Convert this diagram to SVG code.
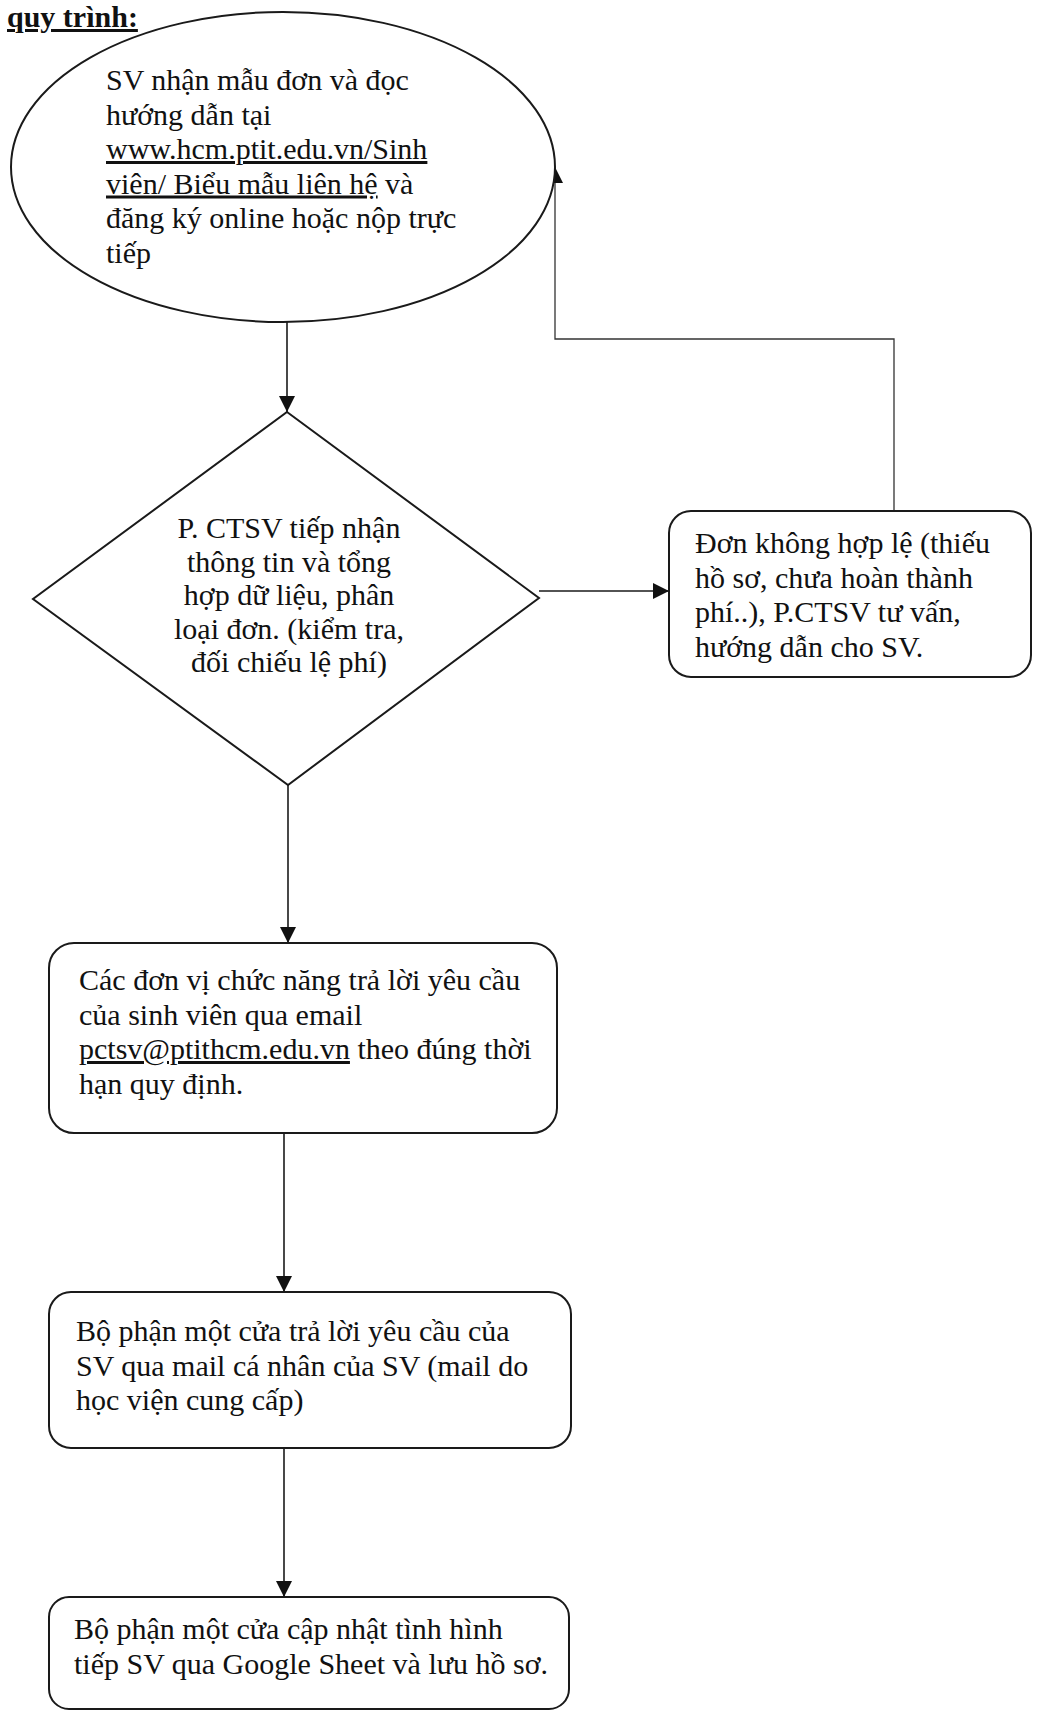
<svg xmlns="http://www.w3.org/2000/svg" width="1039" height="1711" viewBox="0 0 1039 1711">
<style>
  .shape { fill: #ffffff; stroke: #1a1a1a; stroke-width: 2; }
  .t { font-family: "Liberation Serif", "Times New Roman", serif; font-size: 30px; fill: #111111; }
  .mid { text-anchor: middle; }
  .u { text-decoration: underline; }
  .title { font-family: "Liberation Serif", "Times New Roman", serif; font-size: 30px; font-weight: bold; fill: #111111; text-decoration: underline; }
  .conn { fill: none; stroke: #1a1a1a; stroke-width: 1.6; }
  .thin { stroke-width: 1.3; stroke: #333333; }
</style>
<defs>
  <marker id="arrow" markerUnits="userSpaceOnUse" markerWidth="16" markerHeight="16" viewBox="0 0 16 16" refX="16" refY="8" orient="auto">
    <path d="M0,0 L16,8 L0,16 z" fill="#111111"/>
  </marker>
</defs>
<rect x="0" y="0" width="1039" height="1711" fill="#ffffff"/>

<text class="title" x="7" y="27">quy trình:</text>

<g id="connectors">
  <line class="conn" x1="287" y1="322" x2="287" y2="412" marker-end="url(#arrow)"/>
  <line class="conn" x1="539" y1="591" x2="669" y2="591" marker-end="url(#arrow)"/>
  <polyline class="conn thin" points="894,511 894,339 555,339 555,167" marker-end="url(#arrow)"/>
  <line class="conn" x1="288" y1="785" x2="288" y2="943" marker-end="url(#arrow)"/>
  <line class="conn" x1="284" y1="1133" x2="284" y2="1292" marker-end="url(#arrow)"/>
  <line class="conn" x1="284" y1="1448" x2="284" y2="1597" marker-end="url(#arrow)"/>
</g>

<g id="node-start">
  <ellipse class="shape" cx="283" cy="167" rx="272" ry="155"/>
  <text class="t" x="106" y="90">SV nhận mẫu đơn và đọc</text>
  <text class="t" x="106" y="124.5">hướng dẫn tại</text>
  <text class="t" x="106" y="159"><tspan class="u">www.hcm.ptit.edu.vn/Sinh</tspan></text>
  <text class="t" x="106" y="193.5"><tspan class="u">viên/ Biểu mẫu liên hệ</tspan> và</text>
  <text class="t" x="106" y="228">đăng ký online hoặc nộp trực</text>
  <text class="t" x="106" y="262.5">tiếp</text>
</g>

<g id="node-decision">
  <polygon class="shape" points="287,412 539,598 288,785 33,599"/>
  <text class="t mid" x="289" y="538">P. CTSV tiếp nhận</text>
  <text class="t mid" x="289" y="571.5">thông tin và tổng</text>
  <text class="t mid" x="289" y="605">hợp dữ liệu, phân</text>
  <text class="t mid" x="289" y="638.5">loại đơn. (kiểm tra,</text>
  <text class="t mid" x="289" y="672">đối chiếu lệ phí)</text>
</g>

<g id="node-invalid">
  <rect class="shape" x="669" y="511" width="362" height="166" rx="22" ry="22"/>
  <text class="t" x="695" y="553">Đơn không hợp lệ (thiếu</text>
  <text class="t" x="695" y="587.5">hồ sơ, chưa hoàn thành</text>
  <text class="t" x="695" y="622">phí..), P.CTSV tư vấn,</text>
  <text class="t" x="695" y="656.5">hướng dẫn cho SV.</text>
</g>

<g id="node-reply">
  <rect class="shape" x="49" y="943" width="508" height="190" rx="25" ry="25"/>
  <text class="t" x="79" y="990">Các đơn vị chức năng trả lời yêu cầu</text>
  <text class="t" x="79" y="1024.5">của sinh viên qua email</text>
  <text class="t" x="79" y="1059"><tspan class="u">pctsv@ptithcm.edu.vn</tspan> theo đúng thời</text>
  <text class="t" x="79" y="1093.5">hạn quy định.</text>
</g>

<g id="node-onestop-reply">
  <rect class="shape" x="49" y="1292" width="522" height="156" rx="22" ry="22"/>
  <text class="t" x="76" y="1341">Bộ phận một cửa trả lời yêu cầu của</text>
  <text class="t" x="76" y="1375.5">SV qua mail cá nhân của SV (mail do</text>
  <text class="t" x="76" y="1410">học viện cung cấp)</text>
</g>

<g id="node-update">
  <rect class="shape" x="49" y="1597" width="520" height="112" rx="20" ry="20"/>
  <text class="t" x="74" y="1639">Bộ phận một cửa cập nhật tình hình</text>
  <text class="t" x="74" y="1673.5">tiếp SV qua Google Sheet và lưu hồ sơ.</text>
</g>
</svg>
